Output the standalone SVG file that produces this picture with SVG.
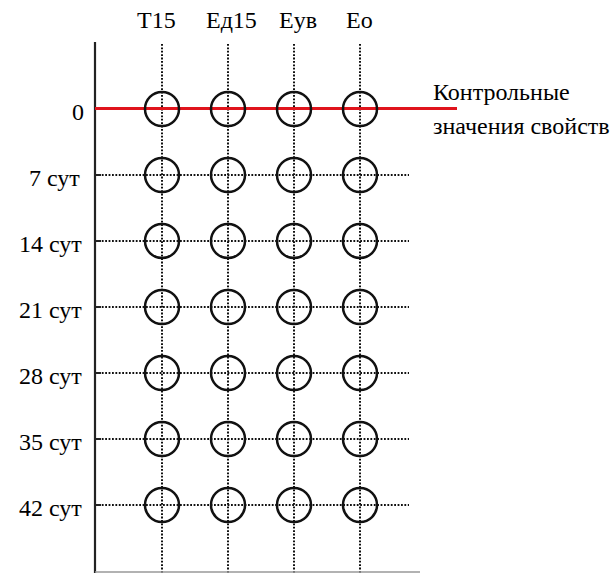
<svg xmlns="http://www.w3.org/2000/svg" width="616" height="573" viewBox="0 0 616 573">
  <rect width="616" height="573" fill="#fff"/>

  <!-- dotted grid, axes and control line -->
  <g id="connectors">
    <g stroke="#111" stroke-width="2" stroke-dasharray="1.8 1.6" fill="none">
      <path d="M162 44V573M228 44V573M294 44V573M360 44V573"/>
      <path d="M95 175H409M95 241H409M95 307H409M95 373H409M95 439H409M95 505H409"/>
    </g>
    <g stroke="#222" stroke-width="2.2" fill="none">
      <path d="M95 42V573"/>
      <path d="M95 175H101M95 241H101M95 307H101M95 373H101M95 439H101M95 505H101"/>
    </g>
    <path d="M95 572H420" stroke="#999" stroke-width="1.5"/>
    <path d="M95 108.5H457" stroke="#e0141c" stroke-width="3"/>
  </g>

  <!-- measurement points -->
  <g id="nodes" fill="none" stroke="#111" stroke-width="2.5">
    <g id="r0"><circle cx="162" cy="109" r="17"/><circle cx="228" cy="109" r="17"/><circle cx="294" cy="109" r="17"/><circle cx="360" cy="109" r="17"/></g>
    <g id="r7"><circle cx="162" cy="175" r="17"/><circle cx="228" cy="175" r="17"/><circle cx="294" cy="175" r="17"/><circle cx="360" cy="175" r="17"/></g>
    <g id="r14"><circle cx="162" cy="241" r="17"/><circle cx="228" cy="241" r="17"/><circle cx="294" cy="241" r="17"/><circle cx="360" cy="241" r="17"/></g>
    <g id="r21"><circle cx="162" cy="307" r="17"/><circle cx="228" cy="307" r="17"/><circle cx="294" cy="307" r="17"/><circle cx="360" cy="307" r="17"/></g>
    <g id="r28"><circle cx="162" cy="373" r="17"/><circle cx="228" cy="373" r="17"/><circle cx="294" cy="373" r="17"/><circle cx="360" cy="373" r="17"/></g>
    <g id="r35"><circle cx="162" cy="439" r="17"/><circle cx="228" cy="439" r="17"/><circle cx="294" cy="439" r="17"/><circle cx="360" cy="439" r="17"/></g>
    <g id="r42"><circle cx="162" cy="505" r="17"/><circle cx="228" cy="505" r="17"/><circle cx="294" cy="505" r="17"/><circle cx="360" cy="505" r="17"/></g>
  </g>

  <!-- column headers -->
  <text x="137" y="28" font-family="Times New Roman" font-size="24">T15</text>
  <text x="206" y="28" font-family="Times New Roman" font-size="24">Ед15</text>
  <text x="279" y="28" font-family="Times New Roman" font-size="24">Еув</text>
  <text x="346" y="28" font-family="Times New Roman" font-size="24">Ео</text>

  <!-- row labels -->
  <text x="72" y="120" font-family="Times New Roman" font-size="24">0</text>
  <text x="29" y="186" font-family="Times New Roman" font-size="24">7 сут</text>
  <text x="19" y="252" font-family="Times New Roman" font-size="24">14 сут</text>
  <text x="19" y="318" font-family="Times New Roman" font-size="24">21 сут</text>
  <text x="19" y="384" font-family="Times New Roman" font-size="24">28 сут</text>
  <text x="19" y="450" font-family="Times New Roman" font-size="24">35 сут</text>
  <text x="19" y="516" font-family="Times New Roman" font-size="24">42 сут</text>

  <!-- caption of the control line -->
  <text x="433" y="100" font-family="Times New Roman" font-size="24">Контрольные</text>
  <text x="433" y="134" font-family="Times New Roman" font-size="24">значения свойств</text>
</svg>
